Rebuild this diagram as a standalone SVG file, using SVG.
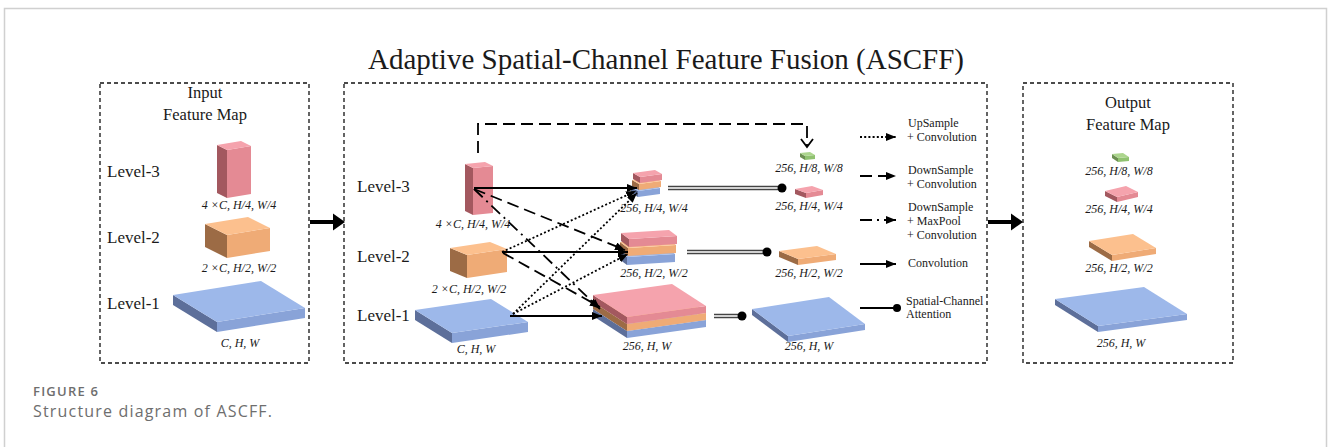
<svg xmlns="http://www.w3.org/2000/svg" width="1328" height="447" viewBox="0 0 1328 447">
<style>
.t{font-family:"Liberation Serif","Times New Roman",serif;fill:#1a1a1a}
.lv{font-size:17px}
.hd{font-size:16.5px;text-anchor:middle}
.it{font-size:12px;font-style:italic;text-anchor:middle}
.lg{font-size:12px}
.box{fill:none;stroke:#111;stroke-width:1.3;stroke-dasharray:4 3}
.pt{fill:#f5a3ad}.pf{fill:#e48a94}.ps{fill:#a3585f}
.ot{fill:#fcc08e}.of{fill:#efab76}.os{fill:#9c6b45}
.bt{fill:#9db8ea}.bf{fill:#89a3d8}.bs{fill:#5d6f9a}
.gt{fill:#acd58d}.gf{fill:#90c270}.gs{fill:#6c8f52}
.ln{fill:none;stroke:#000;stroke-width:1.8}
.sol{marker-end:url(#ah)}
.dsh{stroke-dasharray:12 6;marker-end:url(#ah)}
.dd{stroke-dasharray:12 5 2 5;marker-end:url(#ah)}
.dot{stroke-dasharray:2 2.2;stroke-width:1.8;marker-end:url(#ah)}
.dbo{fill:none;stroke:#444;stroke-width:4.5}
.dbi{fill:none;stroke:#fff;stroke-width:1.4}
.cap{font-family:"Open Sans",sans-serif;fill:#6e6e6e}
</style>
<defs>
<marker id="ah" markerUnits="userSpaceOnUse" markerWidth="12" markerHeight="10" refX="10" refY="4" orient="auto"><path d="M0,0 L10,4 L0,8 Z" fill="#000"/></marker>
</defs>
<rect x="0" y="0" width="1328" height="447" fill="#fff"/>
<path d="M4.5,447 V8.5 H1326.5 V447" fill="none" stroke="#d0d0d0" stroke-width="1.5"/>

<text class="t" x="666" y="69" font-size="29" text-anchor="middle">Adaptive Spatial-Channel Feature Fusion (ASCFF)</text>

<g id="input-box">
<rect class="box" x="100" y="83" width="209" height="280"/>
<text class="t hd" x="205" y="98">Input</text>
<text class="t hd" x="205" y="120">Feature Map</text>
<text class="t lv" x="107" y="177">Level-3</text>
<text class="t lv" x="107" y="243">Level-2</text>
<text class="t lv" x="107" y="309">Level-1</text>
</g>
<g id="in-l3">
<polygon class="ps" points="217,145 227,150 227,198 217,193"/>
<polygon class="pf" points="227,150 251,146 251,194 227,198"/>
<polygon class="pt" points="227,150 251,146 241,141 217,145"/>
<text class="t it" x="239" y="209">4 ×C, H/4, W/4</text>
</g>
<g id="in-l2">
<polygon class="os" points="205,224 227,235 227,258 205,247"/>
<polygon class="of" points="227,235 270,228 270,251 227,258"/>
<polygon class="ot" points="227,235 270,228 248,217 205,224"/>
<text class="t it" x="239" y="272">2 ×C, H/2, W/2</text>
</g>
<g id="in-l1">
<polygon class="bs" points="173,295 217,322 217,332 173,305"/>
<polygon class="bf" points="217,322 305,308 305,318 217,332"/>
<polygon class="bt" points="217,322 305,308 261,281 173,295"/>
<text class="t it" x="240" y="347">C, H, W</text>
</g>

<g id="arrow-in">
<line x1="310" y1="222" x2="336" y2="222" stroke="#000" stroke-width="4"/>
<polygon points="333,213.5 345,222 333,230.5" fill="#000"/>
</g>

<g id="ascff-box">
<rect class="box" x="344" y="83" width="643" height="280"/>
<text class="t lv" x="357" y="192">Level-3</text>
<text class="t lv" x="357" y="262">Level-2</text>
<text class="t lv" x="357" y="321">Level-1</text>
</g>
<g id="m-l3">
<polygon class="ps" points="465,164 473,168 473,215 465,211"/>
<polygon class="pf" points="473,168 493,166 493,213 473,215"/>
<polygon class="pt" points="473,168 493,166 485,162 465,164"/>
<text class="t it" x="473" y="228">4 ×C, H/4, W/4</text>
</g>
<g id="m-l2">
<polygon class="os" points="450,248 467,255 467,278 450,271"/>
<polygon class="of" points="467,255 507,249 507,272 467,278"/>
<polygon class="ot" points="467,255 507,249 490,242 450,248"/>
<text class="t it" x="469" y="293">2 ×C, H/2, W/2</text>
</g>
<g id="m-l1">
<polygon class="bs" points="415,310 452,333 452,343 415,320"/>
<polygon class="bf" points="452,333 528,322 528,332 452,343"/>
<polygon class="bt" points="452,333 528,322 491,299 415,310"/>
<text class="t it" x="476" y="353">C, H, W</text>
</g>

<g id="stack-h4">
<polygon class="bs" points="631,187 638,191 638,197 631,193"/>
<polygon class="bf" points="638,191 660,188 660,194 638,197"/>
<polygon class="bt" points="638,191 660,188 653,184 631,187"/>
<polygon class="os" points="632,180 639,184 639,190 632,186"/>
<polygon class="of" points="639,184 661,181 661,187 639,190"/>
<polygon class="ot" points="639,184 661,181 654,177 632,180"/>
<polygon class="ps" points="633,173 640,177 640,183 633,179"/>
<polygon class="pf" points="640,177 662,174 662,180 640,183"/>
<polygon class="pt" points="640,177 662,174 655,170 633,173"/>
<text class="t it" x="654" y="212">256, H/4, W/4</text>
</g>
<g id="stack-h2">
<polygon class="bs" points="619,251 627,257 627,265 619,259"/>
<polygon class="bf" points="627,257 675,254 675,262 627,265"/>
<polygon class="bt" points="627,257 675,254 667,248 619,251"/>
<polygon class="os" points="620,242 628,248 628,256 620,250"/>
<polygon class="of" points="628,248 676,245 676,253 628,256"/>
<polygon class="ot" points="628,248 676,245 668,239 620,242"/>
<polygon class="ps" points="621,233 629,239 629,247 621,241"/>
<polygon class="pf" points="629,239 677,236 677,244 629,247"/>
<polygon class="pt" points="629,239 677,236 669,230 621,233"/>
<text class="t it" x="654" y="277">256, H/2, W/2</text>
</g>
<g id="stack-h1">
<polygon class="bs" points="593,309 627,331 627,338 593,316"/>
<polygon class="bf" points="627,331 706,320 706,327 627,338"/>
<polygon class="bt" points="627,331 706,320 672,298 593,309"/>
<polygon class="os" points="593,302 627,324 627,331 593,309"/>
<polygon class="of" points="627,324 706,313 706,320 627,331"/>
<polygon class="ot" points="627,324 706,313 672,291 593,302"/>
<polygon class="ps" points="593,295 627,317 627,324 593,302"/>
<polygon class="pf" points="627,317 706,306 706,313 627,324"/>
<polygon class="pt" points="627,317 706,306 672,284 593,295"/>
<text class="t it" x="647" y="350">256, H, W</text>
</g>

<g id="m-out-h8">
<polygon class="gs" points="800,153 805,156 805,160 800,157"/>
<polygon class="gf" points="805,156 815,155 815,159 805,160"/>
<polygon class="gt" points="805,156 815,155 810,152 800,153"/>
<text class="t it" x="809" y="172">256, H/8, W/8</text>
</g>
<g id="m-out-h4">
<polygon class="ps" points="795,189 806,193 806,198 795,194"/>
<polygon class="pf" points="806,193 823,190 823,195 806,198"/>
<polygon class="pt" points="806,193 823,190 812,186 795,189"/>
<text class="t it" x="809" y="210">256, H/4, W/4</text>
</g>
<g id="m-out-h2">
<polygon class="os" points="779,251 798,259 798,265 779,257"/>
<polygon class="of" points="798,259 836,254 836,260 798,265"/>
<polygon class="ot" points="798,259 836,254 817,246 779,251"/>
<text class="t it" x="809" y="277">256, H/2, W/2</text>
</g>
<g id="m-out-h1">
<polygon class="bs" points="752,309 788,336 788,342 752,315"/>
<polygon class="bf" points="788,336 865,324 865,330 788,342"/>
<polygon class="bt" points="788,336 865,324 829,297 752,309"/>
<text class="t it" x="809" y="350">256, H, W</text>
</g>

<g id="connectors">
<path class="ln" d="M478,153 V124 H807 V146" stroke-dasharray="12 6"/>
<polyline class="ln" points="801,139 807,147 813,139"/>
<line class="ln sol" x1="474" y1="188" x2="637" y2="188"/>
<line class="ln sol" x1="502" y1="252" x2="628" y2="252"/>
<line class="ln sol" x1="510" y1="316" x2="602" y2="316"/>
<line class="ln dsh" x1="474" y1="189" x2="625" y2="250"/>
<line class="ln dsh" x1="503" y1="253" x2="600" y2="307"/>
<line class="ln dd" x1="474" y1="189" x2="600" y2="309"/>
<line class="ln dot" x1="502" y1="252" x2="636" y2="191"/>
<line class="ln dot" x1="513" y1="314" x2="637" y2="193"/>
<line class="ln dot" x1="513" y1="314" x2="628" y2="254"/>
<path class="dbo" d="M668,188 H780 M687,252 H765 M714,316 H740"/>
<path class="dbi" d="M668,188 H780 M687,252 H765 M714,316 H740"/>
<circle cx="782" cy="188" r="4.5" fill="#000"/>
<circle cx="767" cy="252" r="4.5" fill="#000"/>
<circle cx="742" cy="316" r="4.5" fill="#000"/>
</g>

<g id="legend">
<line class="ln dot" x1="860" y1="137" x2="896" y2="137"/>
<text class="t lg" x="908" y="127">UpSample</text>
<text class="t lg" x="907" y="141">+ Convolution</text>
<line class="ln dsh" x1="860" y1="176" x2="896" y2="176"/>
<text class="t lg" x="908" y="174">DownSample</text>
<text class="t lg" x="907" y="188">+ Convolution</text>
<line class="ln dd" x1="860" y1="220" x2="896" y2="220"/>
<text class="t lg" x="908" y="211">DownSample</text>
<text class="t lg" x="907" y="225">+ MaxPool</text>
<text class="t lg" x="907" y="239">+ Convolution</text>
<line class="ln sol" x1="860" y1="264" x2="896" y2="264"/>
<text class="t lg" x="908" y="267">Convolution</text>
<line class="ln" x1="860" y1="308" x2="894" y2="308"/>
<circle cx="897" cy="308" r="4" fill="#000"/>
<text class="t lg" x="906" y="305">Spatial-Channel</text>
<text class="t lg" x="906" y="318">Attention</text>
</g>

<g id="arrow-out">
<line x1="988" y1="222" x2="1013" y2="222" stroke="#000" stroke-width="4"/>
<polygon points="1011,213.5 1023,222 1011,230.5" fill="#000"/>
</g>

<g id="output-box">
<rect class="box" x="1023" y="83" width="210" height="280"/>
<text class="t hd" x="1128" y="108">Output</text>
<text class="t hd" x="1128" y="130">Feature Map</text>
</g>
<g id="out-h8">
<polygon class="gs" points="1112,154 1118,158 1118,162 1112,158"/>
<polygon class="gf" points="1118,158 1129,157 1129,161 1118,162"/>
<polygon class="gt" points="1118,158 1129,157 1123,153 1112,154"/>
<text class="t it" x="1119" y="175">256, H/8, W/8</text>
</g>
<g id="out-h4">
<polygon class="ps" points="1105,191 1117,197 1117,202 1105,196"/>
<polygon class="pf" points="1117,197 1138,192 1138,197 1117,202"/>
<polygon class="pt" points="1117,197 1138,192 1126,186 1105,191"/>
<text class="t it" x="1119" y="213">256, H/4, W/4</text>
</g>
<g id="out-h2">
<polygon class="os" points="1089,241 1112,255 1112,261 1089,247"/>
<polygon class="of" points="1112,255 1156,248 1156,254 1112,261"/>
<polygon class="ot" points="1112,255 1156,248 1133,234 1089,241"/>
<text class="t it" x="1119" y="272">256, H/2, W/2</text>
</g>
<g id="out-h1">
<polygon class="bs" points="1055,299 1098,326 1098,332 1055,305"/>
<polygon class="bf" points="1098,326 1187,314 1187,320 1098,332"/>
<polygon class="bt" points="1098,326 1187,314 1144,287 1055,299"/>
<text class="t it" x="1121" y="347">256, H, W</text>
</g>

<text class="cap" x="33" y="395.5" font-size="13" font-weight="600" textLength="65" lengthAdjust="spacing">FIGURE 6</text>
<text class="cap" x="33" y="417" font-size="16" textLength="239" lengthAdjust="spacing">Structure diagram of ASCFF.</text>
</svg>
